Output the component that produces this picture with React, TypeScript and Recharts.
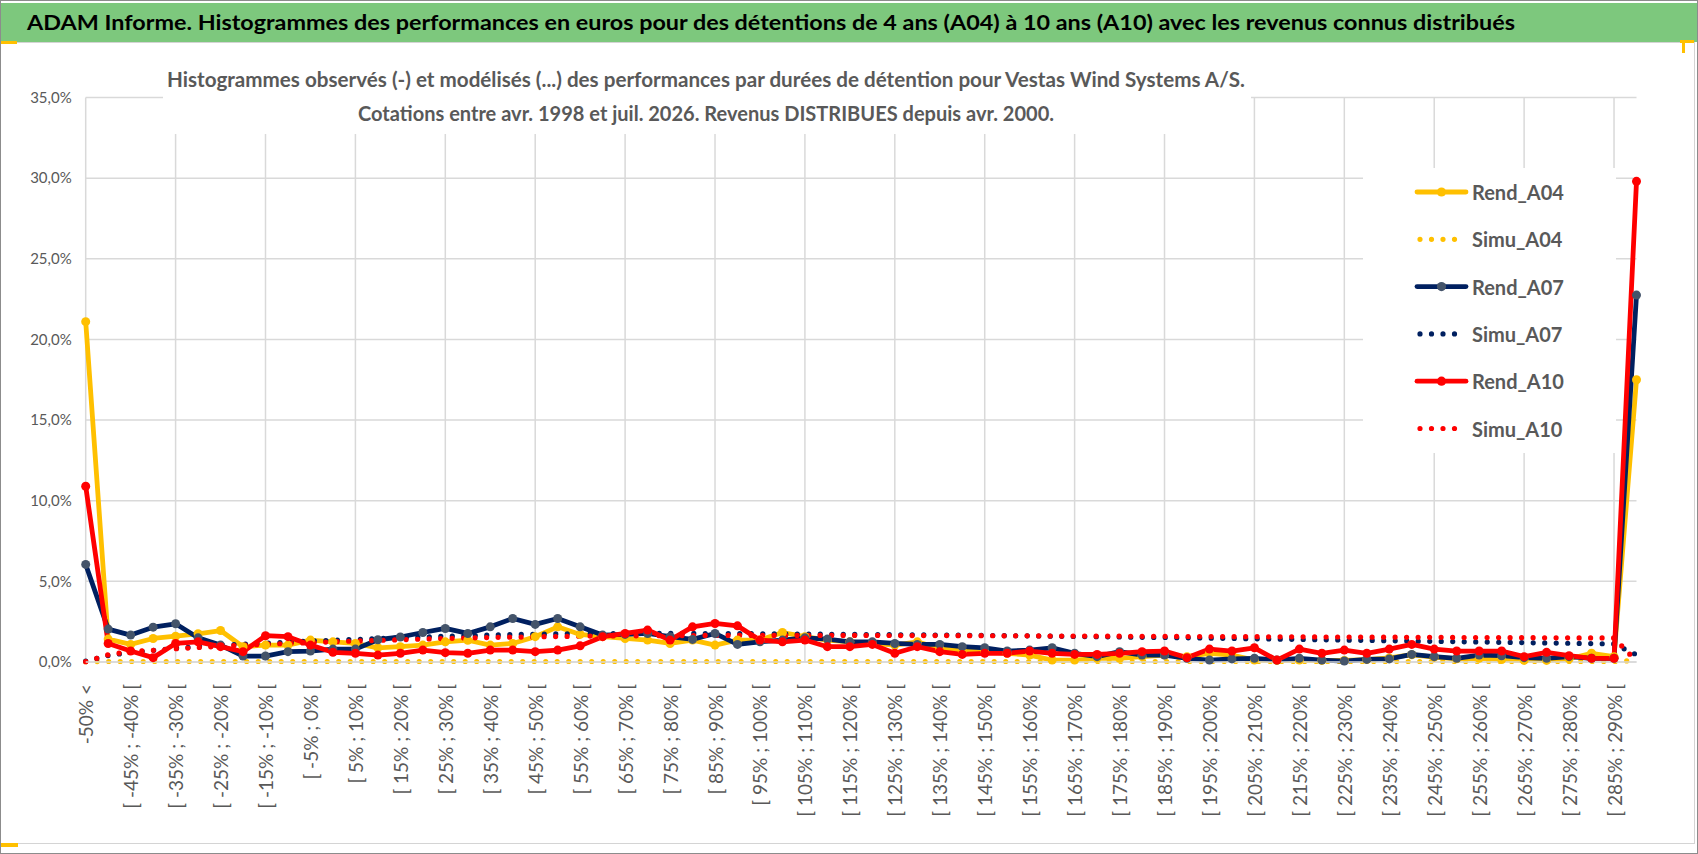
import { LineChart, Line, XAxis, YAxis, CartesianGrid, ReferenceLine, Legend } from 'recharts';

const CATEGORIES = [
  '-50% <', '[ -50% ; -45% [', '[ -45% ; -40% [', '[ -40% ; -35% [', '[ -35% ; -30% [', '[ -30% ; -25% [',
  '[ -25% ; -20% [', '[ -20% ; -15% [', '[ -15% ; -10% [', '[ -10% ; -5% [', '[ -5% ; 0% [', '[ 0% ; 5% [',
  '[ 5% ; 10% [', '[ 10% ; 15% [', '[ 15% ; 20% [', '[ 20% ; 25% [', '[ 25% ; 30% [', '[ 30% ; 35% [',
  '[ 35% ; 40% [', '[ 40% ; 45% [', '[ 45% ; 50% [', '[ 50% ; 55% [', '[ 55% ; 60% [', '[ 60% ; 65% [',
  '[ 65% ; 70% [', '[ 70% ; 75% [', '[ 75% ; 80% [', '[ 80% ; 85% [', '[ 85% ; 90% [', '[ 90% ; 95% [',
  '[ 95% ; 100% [', '[ 100% ; 105% [', '[ 105% ; 110% [', '[ 110% ; 115% [', '[ 115% ; 120% [', '[ 120% ; 125% [',
  '[ 125% ; 130% [', '[ 130% ; 135% [', '[ 135% ; 140% [', '[ 140% ; 145% [', '[ 145% ; 150% [', '[ 150% ; 155% [',
  '[ 155% ; 160% [', '[ 160% ; 165% [', '[ 165% ; 170% [', '[ 170% ; 175% [', '[ 175% ; 180% [', '[ 180% ; 185% [',
  '[ 185% ; 190% [', '[ 190% ; 195% [', '[ 195% ; 200% [', '[ 200% ; 205% [', '[ 205% ; 210% [', '[ 210% ; 215% [',
  '[ 215% ; 220% [', '[ 220% ; 225% [', '[ 225% ; 230% [', '[ 230% ; 235% [', '[ 235% ; 240% [', '[ 240% ; 245% [',
  '[ 245% ; 250% [', '[ 250% ; 255% [', '[ 255% ; 260% [', '[ 260% ; 265% [', '[ 265% ; 270% [', '[ 270% ; 275% [',
  '[ 275% ; 280% [', '[ 280% ; 285% [', '[ 285% ; 290% [', '> 290%',
];

// observed histograms (%)
const REND_A04 = [
  21.1, 1.42, 1.09, 1.46, 1.6, 1.75, 1.95, 0.95, 1.05, 1.05, 1.36, 1.25, 1.15, 0.88, 0.95, 1.05, 1.25, 1.35,
  1.05, 1.15, 1.57, 2.18, 1.71, 1.57, 1.46, 1.36, 1.15, 1.36, 1.05, 1.36, 1.36, 1.83, 1.57, 1.36, 1.25,
  1.15, 1.05, 1.25, 0.84, 0.68, 0.64, 0.54, 0.43, 0.12, 0.12, 0.23, 0.23, 0.33, 0.43, 0.33, 0.54, 0.43,
  0.12, 0.1, 0.12, 0.1, 0.1, 0.15, 0.25, 0.45, 0.3, 0.2, 0.23, 0.15, 0.1, 0.1, 0.2, 0.54, 0.33, 17.5,
];
const REND_A07 = [
  6.05, 2.04, 1.67, 2.16, 2.37, 1.5, 1.05, 0.37, 0.37, 0.64, 0.68, 0.8, 0.8, 1.38, 1.55, 1.83, 2.08, 1.77,
  2.18, 2.7, 2.33, 2.7, 2.18, 1.67, 1.71, 1.77, 1.57, 1.4, 1.77, 1.09, 1.25, 1.36, 1.5, 1.42, 1.25,
  1.25, 1.15, 1.09, 1.09, 0.95, 0.88, 0.68, 0.74, 0.88, 0.54, 0.33, 0.64, 0.43, 0.43, 0.23, 0.12, 0.19,
  0.23, 0.12, 0.23, 0.12, 0.06, 0.16, 0.19, 0.47, 0.33, 0.23, 0.43, 0.39, 0.27, 0.23, 0.33, 0.23, 0.23, 22.75,
];
const REND_A10 = [
  10.9, 1.15, 0.68, 0.27, 1.15, 1.25, 0.95, 0.64, 1.63, 1.57, 1.05, 0.6, 0.54, 0.43, 0.54, 0.74, 0.58, 0.54,
  0.74, 0.74, 0.64, 0.74, 1.0, 1.57, 1.77, 1.98, 1.36, 2.18, 2.39, 2.24, 1.36, 1.25, 1.36, 0.95, 0.95,
  1.09, 0.54, 0.95, 0.64, 0.47, 0.54, 0.54, 0.68, 0.54, 0.47, 0.47, 0.54, 0.64, 0.68, 0.27, 0.8, 0.68,
  0.88, 0.12, 0.8, 0.54, 0.74, 0.54, 0.8, 1.09, 0.8, 0.68, 0.68, 0.68, 0.33, 0.6, 0.39, 0.23, 0.23, 29.8,
];

// modelled histograms (%)
const SIMU_A04 = [
  0.02, 0.03, 0.03, 0.03, 0.03, 0.03, 0.03, 0.03, 0.03, 0.03, 0.03, 0.03, 0.03, 0.03, 0.03, 0.03, 0.03, 0.03,
  0.03, 0.03, 0.03, 0.03, 0.03, 0.03, 0.03, 0.03, 0.03, 0.03, 0.03, 0.03, 0.03, 0.03, 0.03, 0.03, 0.03,
  0.03, 0.03, 0.03, 0.03, 0.03, 0.03, 0.03, 0.03, 0.03, 0.03, 0.03, 0.03, 0.03, 0.03, 0.03, 0.03, 0.03,
  0.03, 0.03, 0.03, 0.03, 0.03, 0.03, 0.03, 0.03, 0.03, 0.03, 0.03, 0.03, 0.03, 0.03, 0.03, 0.03, 0.03, 0.1,
];
const SIMU_A07 = [
  0.05, 0.4, 0.6, 0.72, 0.85, 0.95, 1.03, 1.1, 1.17, 1.23, 1.3, 1.35, 1.4, 1.45, 1.5, 1.55, 1.6, 1.63,
  1.67, 1.7, 1.72, 1.74, 1.75, 1.76, 1.77, 1.77, 1.77, 1.77, 1.76, 1.76, 1.75, 1.74, 1.73, 1.72, 1.71,
  1.7, 1.69, 1.68, 1.67, 1.66, 1.65, 1.63, 1.62, 1.6, 1.58, 1.57, 1.55, 1.53, 1.52, 1.5, 1.48, 1.46,
  1.44, 1.42, 1.4, 1.38, 1.36, 1.34, 1.32, 1.3, 1.28, 1.26, 1.24, 1.22, 1.2, 1.18, 1.16, 1.14, 1.12, 0.45,
];
const SIMU_A10 = [
  0.02, 0.45, 0.65, 0.72, 0.82, 0.9, 0.97, 1.04, 1.1, 1.15, 1.2, 1.25, 1.3, 1.34, 1.38, 1.42, 1.46, 1.49,
  1.52, 1.54, 1.56, 1.58, 1.6, 1.61, 1.62, 1.63, 1.64, 1.64, 1.65, 1.65, 1.65, 1.65, 1.65, 1.65, 1.65,
  1.65, 1.64, 1.64, 1.64, 1.63, 1.63, 1.62, 1.62, 1.61, 1.61, 1.6, 1.6, 1.59, 1.59, 1.58, 1.58, 1.57,
  1.57, 1.56, 1.56, 1.55, 1.55, 1.54, 1.54, 1.53, 1.53, 1.52, 1.52, 1.51, 1.51, 1.5, 1.5, 1.49, 1.49, 0.05,
];

const Y_TICKS = [0, 5, 10, 15, 20, 25, 30, 35];

const BANNER = 'ADAM Informe. Histogrammes des performances en euros pour des détentions de 4 ans (A04) à 10 ans (A10) avec les revenus connus distribués';
const TITLE_1 = 'Histogrammes observés (-) et modélisés (...) des performances par durées de détention pour Vestas Wind Systems A/S.';
const TITLE_2 = 'Cotations entre avr. 1998 et juil. 2026. Revenus DISTRIBUES depuis avr. 2000.';

const SERIES = [
  { key: 'Rend_A04', values: REND_A04, color: '#FFC000', marker: '#FFC000', dotted: false },
  { key: 'Simu_A04', values: SIMU_A04, color: '#FFC000', marker: '', dotted: true },
  { key: 'Rend_A07', values: REND_A07, color: '#002060', marker: '#44546A', dotted: false },
  { key: 'Simu_A07', values: SIMU_A07, color: '#002060', marker: '', dotted: true },
  { key: 'Rend_A10', values: REND_A10, color: '#FF0000', marker: '#FF0000', dotted: false },
  { key: 'Simu_A10', values: SIMU_A10, color: '#FF0000', marker: '', dotted: true },
];

const data = CATEGORIES.map((cat, i) => {
  const row: Record<string, string | number> = { cat };
  SERIES.forEach((s) => { row[s.key] = s.values[i]; });
  return row;
});

const FONT = 'Lato, "Open Sans", sans-serif';
const GRID = '#d9d9d9';
const TEXT = '#595959';
const DOTS = '0 11.5';

const XTick = ({ x, y, payload }: any) => (
  <text
    x={x}
    y={y}
    transform={`rotate(-90, ${x}, ${y})`}
    textAnchor="end"
    dominantBaseline="central"
    fontSize={19}
    fontFamily={FONT}
    fill={TEXT}
  >
    {payload.value}
  </text>
);

const LegendBox = () => (
  <svg width={253} height={285}>
    {SERIES.map((s, i) => {
      const cy = 24 + i * 47.3;
      return (
        <g key={s.key}>
          {s.dotted ? (
            <line x1={57} x2={103} y1={cy} y2={cy} stroke={s.color} strokeWidth={5.2}
              strokeDasharray={DOTS} strokeLinecap="round" />
          ) : (
            <>
              <line x1={54} x2={103} y1={cy} y2={cy} stroke={s.color} strokeWidth={4.8} strokeLinecap="round" />
              <circle cx={78.5} cy={cy} r={4.6} fill={s.marker} />
            </>
          )}
          <text x={109} y={cy} dominantBaseline="central" fontSize={20} fontWeight="bold"
            fontFamily={FONT} fill={TEXT}>{s.key}</text>
        </g>
      );
    })}
  </svg>
);

export default function App() {
  return (
    <div style={{ position: 'absolute', left: 0, top: 0, width: 1698, height: 854, background: '#fff',
      border: '1px solid #8c8c8c', boxSizing: 'border-box', overflow: 'hidden', fontFamily: FONT }}>
      <div style={{ position: 'absolute', left: 0, top: 2, width: 1696, height: 39, background: '#7DC87D' }} />
      <div style={{ position: 'absolute', left: -1, top: 41, width: 1693, height: 800, border: '1px solid #d4d4d4' }} />

      <div style={{ position: 'absolute', left: -1, top: -1 }}>
        <LineChart width={1698} height={854} data={data} margin={{ top: 97.5, right: 61.5, left: 0, bottom: 0 }}>
          <CartesianGrid vertical={false} stroke={GRID} strokeWidth={1.5} />
          {CATEGORIES.filter((_, i) => i % 4 === 0).map((c) => (
            <ReferenceLine key={c} x={c} stroke={GRID} strokeWidth={1.5} />
          ))}
          <XAxis dataKey="cat" interval={1} height={192} tick={<XTick />} tickLine={false} tickMargin={16}
            axisLine={{ stroke: GRID, strokeWidth: 1.5 }} />
          <YAxis width={85.7} domain={[0, 35]} ticks={Y_TICKS} axisLine={false} tickLine={false} tickMargin={8}
            tickFormatter={(v: number) => `${v.toFixed(1).replace('.', ',')}%`}
            tick={{ fill: TEXT, fontSize: 15, fontFamily: FONT }} />
          <Legend layout="vertical" align="center" verticalAlign="middle" content={<LegendBox />}
            wrapperStyle={{ left: 1363, top: 168, width: 253, height: 285, background: '#fff' }} />
          {SERIES.map((s) =>
            s.dotted ? (
              <Line key={s.key} dataKey={s.key} stroke={s.color} strokeWidth={5.2} strokeDasharray={DOTS}
                strokeLinecap="round" dot={false} activeDot={false} isAnimationActive={false} />
            ) : (
              <Line key={s.key} dataKey={s.key} stroke={s.color} strokeWidth={4.8} strokeLinejoin="round"
                dot={{ r: 4.5, fill: s.marker, stroke: s.marker, strokeWidth: 0 }} activeDot={false}
                isAnimationActive={false} />
            )
          )}
        </LineChart>
      </div>

      <svg width={1698} height={854} style={{ position: 'absolute', left: -1, top: -1, pointerEvents: 'none' }}>
        <text x={27} y={30} fontSize={21} fontWeight="bold" fontFamily={FONT} fill="#000"
          textLength={1488} lengthAdjust="spacingAndGlyphs">{BANNER}</text>
        <rect x={163} y={58} width={1088} height={76} fill="#fff" />
        <text x={706} y={87} textAnchor="middle" fontSize={20} fontWeight="bold" fontFamily={FONT} fill={TEXT}
          textLength={1078} lengthAdjust="spacingAndGlyphs">{TITLE_1}</text>
        <text x={706} y={121} textAnchor="middle" fontSize={20} fontWeight="bold" fontFamily={FONT} fill={TEXT}
          textLength={696} lengthAdjust="spacingAndGlyphs">{TITLE_2}</text>
        <rect x={0} y={41} width={17} height={3} fill="#FFC000" />
        <rect x={1} y={843} width={17} height={4} fill="#FFC000" />
        <rect x={1680} y={40} width={14} height={3} fill="#FFC000" />
        <rect x={1682} y={40} width={3} height={13} fill="#FFC000" />
      </svg>
    </div>
  );
}
